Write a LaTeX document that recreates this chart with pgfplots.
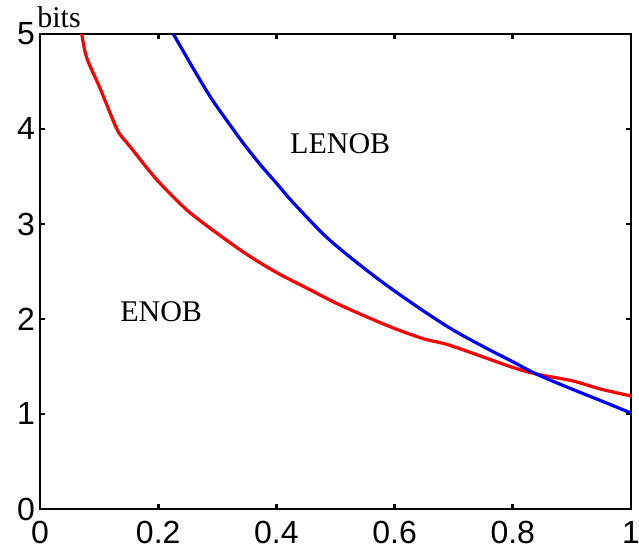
\documentclass[border=0pt]{standalone}
\usepackage{pgfplots}
\pgfplotsset{compat=1.18}
\usepackage{fontspec}
\setmainfont{Liberation Serif}
\setsansfont{Liberation Sans}
\begin{document}
\begin{tikzpicture}
\begin{axis}[
  scale only axis,
  width=295.5pt, height=237.5pt,
  xmin=0, xmax=1, ymin=0, ymax=5,
  xtick={0,0.2,0.4,0.6,0.8,1},
  xticklabels={0,0.2,0.4,0.6,0.8,1},
  ytick={0,1,2,3,4,5},
  tick align=inside,
  major tick length=2.5pt,
  axis line style={line width=1.3pt},
  every tick/.style={black, line width=1.3pt},
  /pgf/number format/assume math mode=true,
  tick label style={font=\sffamily\fontsize{16}{18}\selectfont},
  xticklabel style={yshift=-2.5pt},
  yticklabel style={xshift=1pt},
  clip mode=individual,
]
\addplot[color=red, line width=1.6pt, smooth] coordinates {
(0.0706,5.00) (0.079,4.75) (0.1015,4.43) (0.130,4.00) (0.145,3.87) (0.158,3.77) (0.197,3.47)
(0.248,3.15) (0.30,2.90) (0.35,2.68) (0.40,2.49) (0.45,2.33) (0.50,2.17)
(0.55,2.03) (0.60,1.90) (0.65,1.79) (0.69,1.73) (0.75,1.60) (0.80,1.49)
(0.84,1.42) (0.90,1.35) (0.95,1.26) (1.0,1.19)
};
\addplot[color=blue, line width=1.6pt, smooth] coordinates {
(0.2256,5.00) (0.259,4.64) (0.288,4.34) (0.316,4.09) (0.344,3.85) (0.372,3.63)
(0.40,3.43) (0.429,3.22) (0.485,2.86) (0.541,2.57) (0.592,2.33) (0.65,2.08)
(0.70,1.88) (0.756,1.69) (0.80,1.55) (0.84,1.42) (0.897,1.27) (0.953,1.13) (1.0,1.01)
};
\node[font=\fontsize{15}{17}\selectfont] at (axis cs:0.508,3.85) {LENOB};
\node[font=\fontsize{15}{17}\selectfont] at (axis cs:0.205,2.08) {ENOB};
\node[anchor=base west, inner sep=0pt, font=\fontsize{15}{17}\selectfont] at ([xshift=-1.5pt,yshift=3pt]rel axis cs:0,1) {bits};
\end{axis}
\pgfresetboundingbox
\path (-20pt,-20pt) rectangle (299.5pt,254.5pt);
\end{tikzpicture}
\end{document}
